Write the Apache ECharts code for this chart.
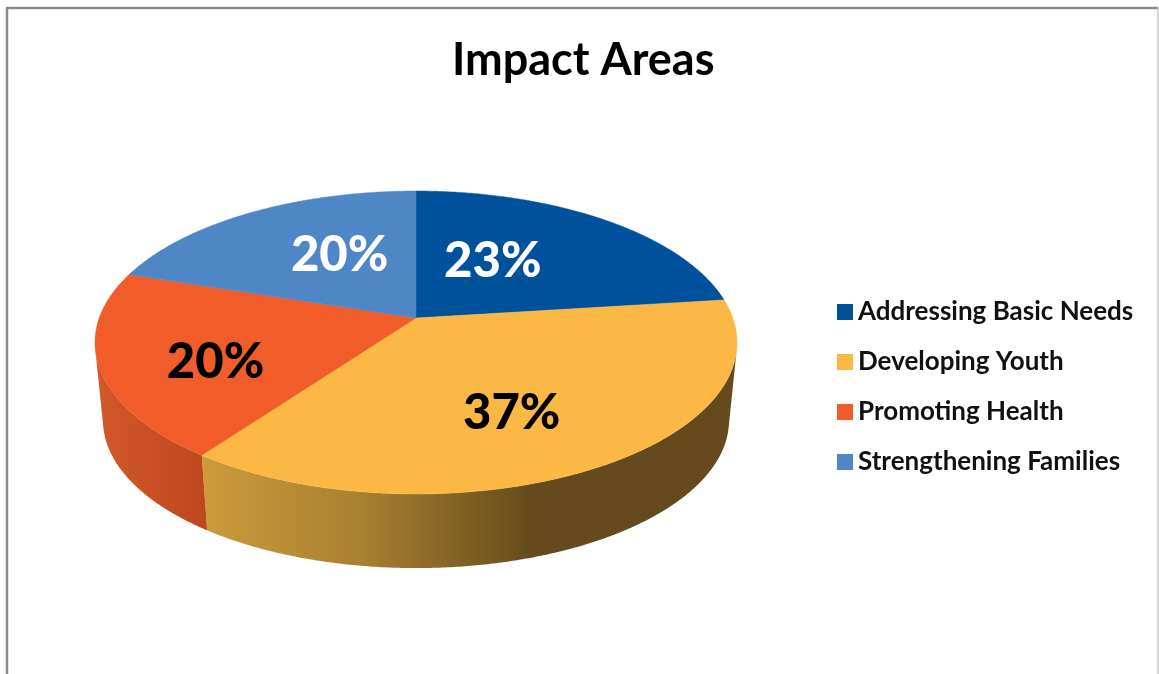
<!DOCTYPE html>
<html>
<head>
<meta charset="utf-8">
<style>html,body{margin:0;padding:0;background:#fff;overflow:hidden}#c{width:1159px;height:674px}</style>
<script src="https://cdn.jsdelivr.net/npm/echarts@6/dist/echarts.min.js"></script>
</head>
<body>
<div id="c"></div>
<script>
const titleText = 'Impact Areas';
const categories = ['Addressing Basic Needs', 'Developing Youth', 'Promoting Health', 'Strengthening Families'];
const values = [23, 37, 20, 20];
const unit = '%';

const topColors = ['#00519C', '#FBB844', '#F15D2A', '#4F87C6'];
const labelColors = ['#fff', '#000', '#000', '#fff'];
const labelNudges = [[-22, -5], [9, 27], [-46, 21], [11, -7]];
const FONT = 'Lato, Carlito, sans-serif';

// Perspective rings: the pie's flat circle is projected onto these two planes.
const q = 0.1617, cx = 416;
const topRing = { rx: 316.8, ry: 147.5, y0: 318 };
const baseRing = { rx: 308.9, ry: 143.9, y0: 396.4 };

const total = values.reduce((a, b) => a + b, 0);
const spans = [];
values.reduce((acc, v) => { spans.push([acc, acc + v, v]); return acc + v; }, 0);

function project(ring, share, rho) {
  const t = share / total * Math.PI * 2;
  const u = rho * Math.sin(t), v = -rho * Math.cos(t), d = 1 - q * v;
  return [cx + ring.rx * u / d, ring.y0 + ring.ry * v / d];
}
function arc(ring, a, b) {
  const pts = [], n = Math.max(8, Math.ceil((b - a) * 8));
  for (let i = 0; i <= n; i++) pts.push(project(ring, a + (b - a) * i / n, 1));
  return pts;
}
function hGrad(x0, x1, stops) {
  return { type: 'linear', x: x0, y: 0, x2: x1, y2: 0, global: true,
    colorStops: stops.map(s => ({ offset: s[0], color: s[1] })) };
}
const wallFills = [
  '#003A70',
  hGrad(203, 737, [[0, '#CB9C3C'], [0.3, '#A97F31'], [0.62, '#644A1C'], [1, '#644A1C']]),
  hGrad(95, 207, [[0, '#D2592A'], [1, '#BE471E']]),
  '#3A6391'
];

const wallSeries = {
  type: 'custom', name: 'wall', coordinateSystem: 'none', silent: true, z: 1,
  data: spans,
  renderItem(params, api) {
    const a = api.value(0), b = api.value(1);
    const upper = arc(topRing, a, b), lower = arc(baseRing, a, b);
    // keep only the part of the rim that faces the viewer
    const keep = upper.map((p, i) => {
      const n = upper[Math.min(i + 1, upper.length - 1)], m = upper[Math.max(i - 1, 0)];
      const ex = n[0] - m[0], ey = n[1] - m[1];
      const wx = lower[i][0] - p[0], wy = lower[i][1] - p[1];
      return ex * wy - ey * wx < 0;
    });
    const top = upper.filter((_, i) => keep[i]), base = lower.filter((_, i) => keep[i]);
    if (top.length < 2) return null;
    return { type: 'polygon', shape: { points: top.concat(base.reverse()) },
      style: { fill: wallFills[params.dataIndex] } };
  }
};

const topSeries = categories.map((name, i) => ({
  type: 'custom', name, coordinateSystem: 'none', silent: true, z: 2,
  itemStyle: { color: topColors[i] },
  data: [spans[i]],
  renderItem(params, api) {
    const a = api.value(0), b = api.value(1), val = api.value(2);
    const points = [[cx, topRing.y0]].concat(arc(topRing, a, b));
    const mid = project(topRing, (a + b) / 2, 0.5);
    return {
      type: 'group',
      children: [
        { type: 'polygon', shape: { points }, style: { fill: topColors[i], stroke: topColors[i], lineWidth: 0.5 } },
        { type: 'text', z2: 10, style: {
            x: mid[0] + labelNudges[i][0], y: mid[1] + labelNudges[i][1],
            text: val + unit, align: 'center', verticalAlign: 'middle',
            fill: labelColors[i], font: '900 49px ' + FONT } }
      ]
    };
  }
}));

const frameColor = '#8C8C8C';
const chart = echarts.init(document.getElementById('c'), null, { renderer: 'canvas' });
chart.setOption({
  animation: false,
  backgroundColor: '#fff',
  title: { text: titleText, left: 447, top: 33,
    textStyle: { fontFamily: FONT, fontWeight: 'bold', fontSize: 45, color: '#000' } },
  legend: {
    data: categories, orient: 'vertical', left: 832, top: 294, itemGap: 24,
    itemWidth: 16, itemHeight: 16, icon: 'rect', selectedMode: false,
    itemStyle: { borderWidth: 0 },
    textStyle: { fontFamily: FONT, fontWeight: 'bold', fontSize: 26, color: '#111' }
  },
  graphic: [
    { type: 'line', silent: true, shape: { x1: 7, y1: 8, x2: 7, y2: 674 }, style: { stroke: frameColor, lineWidth: 2.5 } },
    { type: 'line', silent: true, shape: { x1: 6, y1: 8, x2: 1158, y2: 8 }, style: { stroke: frameColor, lineWidth: 2.5 } },
    { type: 'line', silent: true, shape: { x1: 1158, y1: 8, x2: 1158, y2: 674 }, style: { stroke: '#B0B0B0', lineWidth: 1 } }
  ],
  series: [wallSeries].concat(topSeries)
});
</script>
</body>
</html>
